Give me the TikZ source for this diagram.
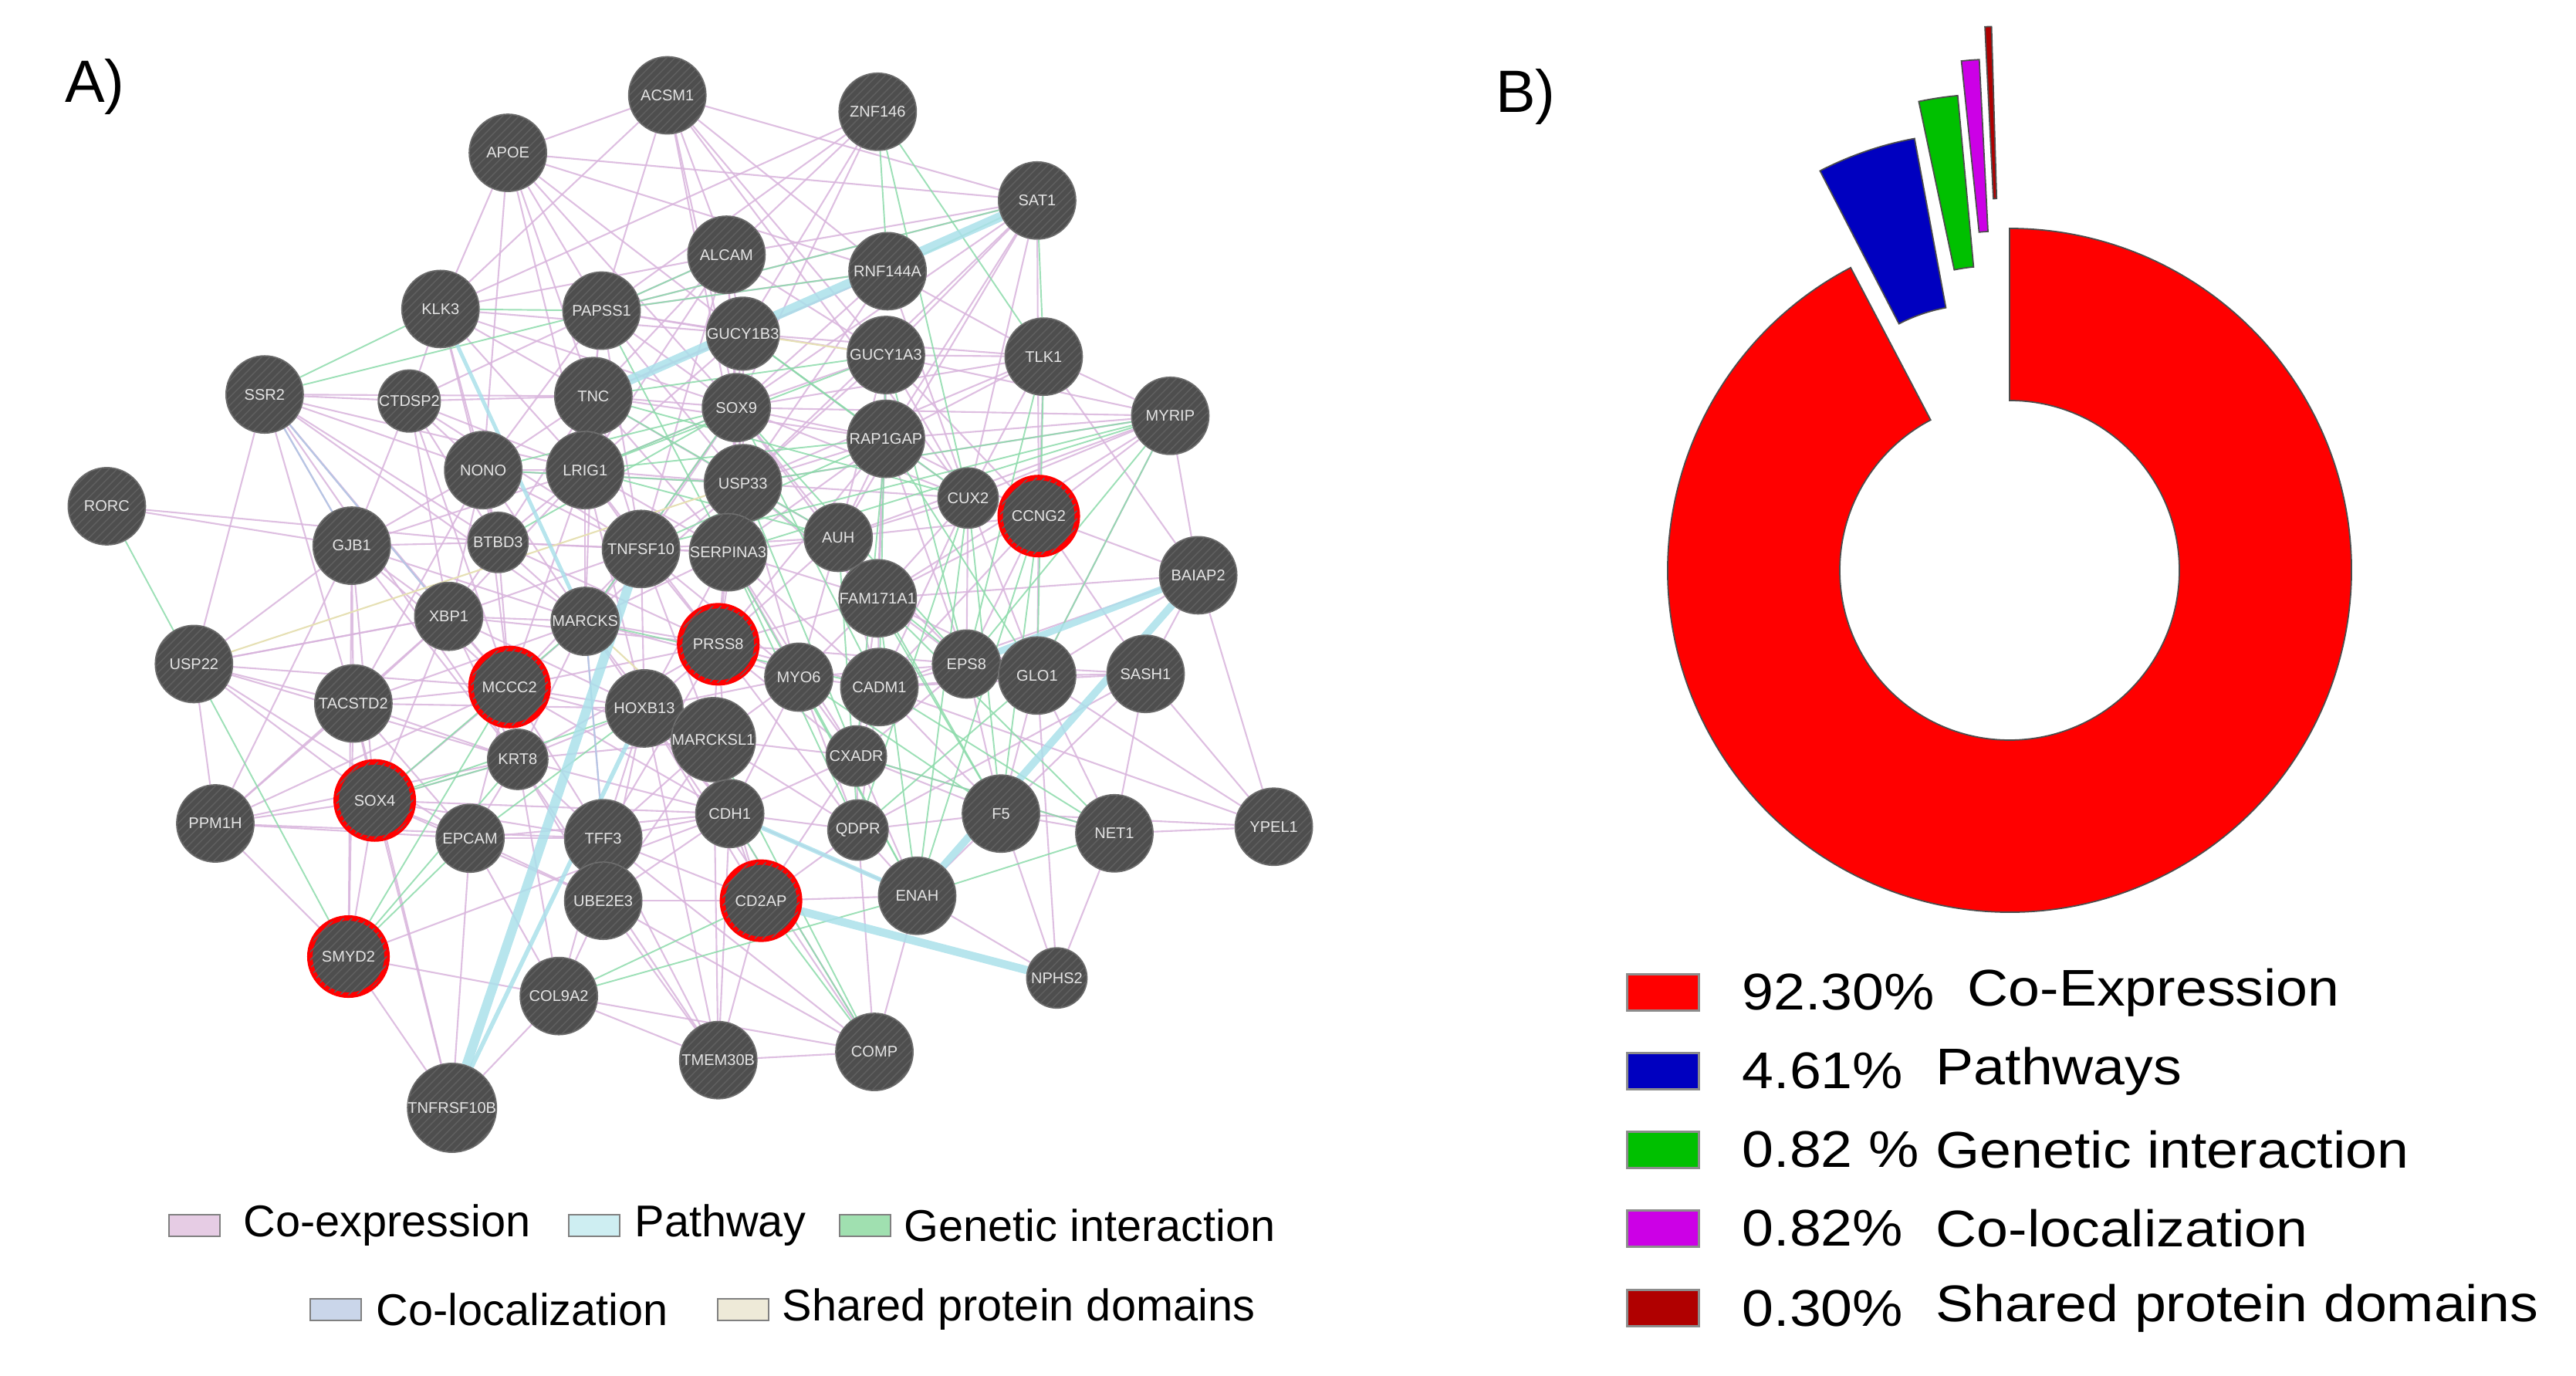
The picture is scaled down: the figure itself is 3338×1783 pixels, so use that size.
\documentclass[tikz,border=0pt]{standalone}
\usepackage{fontspec}
\setmainfont{Liberation Sans}
\newfontfamily\widesans[FakeStretch=1.1]{Liberation Sans}
\usetikzlibrary{patterns,backgrounds}

\definecolor{nodegray}{RGB}{78,78,78}
\definecolor{nodeline}{RGB}{110,110,110}
\definecolor{stripe}{RGB}{96,96,96}
\definecolor{labelgray}{RGB}{228,228,228}
\definecolor{coexpcolor}{RGB}{216,180,220}
\definecolor{pathcolor}{RGB}{170,224,234}
\definecolor{genetcolor}{RGB}{140,218,170}
\definecolor{coloccolor}{RGB}{182,198,228}
\definecolor{domaincolor}{RGB}{230,224,180}
\definecolor{coexpbox}{RGB}{230,204,228}
\definecolor{pathbox}{RGB}{206,238,242}
\definecolor{genetbox}{RGB}{160,224,176}
\definecolor{colocbox}{RGB}{202,214,234}
\definecolor{domainbox}{RGB}{238,234,216}
\definecolor{piered}{RGB}{255,0,0}
\definecolor{pieblue}{RGB}{0,0,192}
\definecolor{piegreen}{RGB}{0,192,0}
\definecolor{piemagenta}{RGB}{204,0,230}
\definecolor{piedarkred}{RGB}{176,0,0}

\tikzset{
  gene/.style={circle, minimum size=1.0cm, inner sep=0pt, fill=nodegray, draw=nodeline,
    line width=0.5pt, text=labelgray, font=\fontsize{5.7}{6}\selectfont,
    postaction={pattern=north east lines, pattern color=stripe}},
  genem/.style={gene, minimum size=0.88cm},
  genes/.style={gene, minimum size=0.78cm},
  query/.style={gene, draw=red, line width=2pt},
  coexp/.style={draw=coexpcolor, line width=0.6pt, opacity=0.85},
  genet/.style={draw=genetcolor, line width=0.55pt, opacity=0.85},
  coloc/.style={draw=coloccolor, line width=0.6pt},
  shareddom/.style={draw=domaincolor, line width=0.6pt},
  pathway/.style={draw=pathcolor, line width=#1, opacity=0.85},
  pathway/.default=1.5pt,
  keybox/.style={draw=black!50, line width=0.7pt, minimum width=0.66cm, minimum height=0.28cm, inner sep=0pt},
  keytext/.style={anchor=west, inner sep=0pt, font=\fontsize{16.4}{19}\selectfont},
  piekey/.style={draw=black!45, line width=0.8pt, minimum width=0.93cm, minimum height=0.47cm, inner sep=0pt},
  pietext/.style={anchor=west, inner sep=0pt, font=\widesans\fontsize{19}{22}\selectfont},
  slice/.style={draw=black!70, line width=0.5pt}
}

% one ring segment of the donut: colour, start angle, end angle, explode distance
\newcommand{\ringslice}[4]{%
  \pgfmathsetmacro{\midang}{(#2+#3)/2}
  \pgfmathsetmacro{\slicedx}{#4*cos(\midang)}
  \pgfmathsetmacro{\slicedy}{#4*sin(\midang)}
  \filldraw[slice, fill=#1] ({\slicedx+220*cos(#2)}, {\slicedy+220*sin(#2)})
    -- ({\slicedx+443*cos(#2)}, {\slicedy+443*sin(#2)})
    arc[start angle=#2, end angle=#3, radius=443]
    -- ({\slicedx+220*cos(#3)}, {\slicedy+220*sin(#3)})
    arc[start angle=#3, end angle=#2, radius=220] -- cycle;}

\begin{document}
\begin{tikzpicture}[x=0.01cm, y=-0.01cm]
  \useasboundingbox (0,0) rectangle (3338,1783);

  \node (labA) at (123,112) {\fontsize{22}{24}\selectfont A)};
  \node (labB) at (1977,125) {\fontsize{22}{24}\selectfont B)};

  % network of genes
  \begin{scope}[x=0.021288cm, y=-0.021288cm]
    \node[gene] (ACSM1) at (406,58) {ACSM1};
    \node[gene] (ZNF146) at (534,68) {ZNF146};
    \node[gene] (APOE) at (309,93) {APOE};
    \node[gene] (SAT1) at (631,122) {SAT1};
    \node[gene] (ALCAM) at (442,155) {ALCAM};
    \node[gene] (RNF144A) at (540,165) {RNF144A};
    \node[gene] (KLK3) at (268,188) {KLK3};
    \node[gene] (PAPSS1) at (366,189) {PAPSS1};
    \node[genes] (GUCY1B3) at (452,203) {GUCY1B3};
    \node[gene] (GUCY1A3) at (539,216) {GUCY1A3};
    \node[gene] (TLK1) at (635,217) {TLK1};
    \node[gene] (SSR2) at (161,240) {SSR2};
    \node[genes] (CTDSP2) at (249,244) {CTDSP2};
    \node[gene] (TNC) at (361,241) {TNC};
    \node[genem] (SOX9) at (448,248) {SOX9};
    \node[gene] (MYRIP) at (712,253) {MYRIP};
    \node[gene] (RAP1GAP) at (539,267) {RAP1GAP};
    \node[gene] (NONO) at (294,286) {NONO};
    \node[gene] (LRIG1) at (356,286) {LRIG1};
    \node[gene] (USP33) at (452,294) {USP33};
    \node[gene] (RORC) at (65,308) {RORC};
    \node[genes] (CUX2) at (589,303) {CUX2};
    \node[query] (CCNG2) at (632,314) {CCNG2};
    \node[gene] (GJB1) at (214,332) {GJB1};
    \node[genes] (BTBD3) at (303,330) {BTBD3};
    \node[gene] (TNFSF10) at (390,334) {TNFSF10};
    \node[gene] (SERPINA3) at (443,336) {SERPINA3};
    \node[genem] (AUH) at (510,327) {AUH};
    \node[gene] (BAIAP2) at (729,350) {BAIAP2};
    \node[genem] (XBP1) at (273,375) {XBP1};
    \node[genem] (MARCKS) at (356,378) {MARCKS};
    \node[query] (PRSS8) at (437,392) {PRSS8};
    \node[gene] (FAM171A1) at (534,364) {FAM171A1};
    \node[gene] (USP22) at (118,404) {USP22};
    \node[gene] (TACSTD2) at (215,428) {TACSTD2};
    \node[query] (MCCC2) at (310,418) {MCCC2};
    \node[gene] (HOXB13) at (392,431) {HOXB13};
    \node[genem] (MYO6) at (486,412) {MYO6};
    \node[gene] (CADM1) at (535,418) {CADM1};
    \node[genem] (EPS8) at (588,404) {EPS8};
    \node[gene] (GLO1) at (631,411) {GLO1};
    \node[gene] (SASH1) at (697,410) {SASH1};
    \node[gene] (MARCKSL1) at (434,450) {MARCKSL1};
    \node[genes] (KRT8) at (315,462) {KRT8};
    \node[genes] (CXADR) at (521,460) {CXADR};
    \node[query] (SOX4) at (228,487) {SOX4};
    \node[gene] (PPM1H) at (131,501) {PPM1H};
    \node[genem] (EPCAM) at (286,510) {EPCAM};
    \node[gene] (TFF3) at (367,510) {TFF3};
    \node[genem] (CDH1) at (444,495) {CDH1};
    \node[genes] (QDPR) at (522,505) {QDPR};
    \node[gene] (F5) at (609,495) {F5};
    \node[gene] (NET1) at (678,507) {NET1};
    \node[gene] (YPEL1) at (775,503) {YPEL1};
    \node[gene] (UBE2E3) at (367,548) {UBE2E3};
    \node[query] (CD2AP) at (463,548) {CD2AP};
    \node[gene] (ENAH) at (558,545) {ENAH};
    \node[query] (SMYD2) at (212,582) {SMYD2};
    \node[genes] (NPHS2) at (643,595) {NPHS2};
    \node[gene] (COL9A2) at (340,606) {COL9A2};
    \node[gene] (COMP) at (532,640) {COMP};
    \node[gene] (TMEM30B) at (437,645) {TMEM30B};
    \node[gene] (TNFRSF10B) at (275,674) {TNFRSF10B};
  \end{scope}

  \begin{scope}[on background layer]
    % co-expression
    \draw[coexp] (ACSM1) edge (APOE) edge (ALCAM) edge (PAPSS1) edge (RNF144A) edge (SOX9) edge (GUCY1A3) edge (SAT1) edge (KLK3) edge (CUX2) edge (USP33);
    \draw[coexp] (APOE) edge (KLK3) edge (PAPSS1) edge (TNC) edge (SAT1) edge (RNF144A) edge (NONO) edge (GUCY1B3) edge (LRIG1) edge (SOX9);
    \draw[coexp] (ZNF146) edge (ALCAM) edge (PAPSS1) edge (GUCY1B3) edge (KLK3) edge (SOX9);
    \draw[coexp] (SAT1) edge (ALCAM) edge (GUCY1A3) edge (RAP1GAP) edge (CCNG2) edge (CUX2) edge (USP33) edge (SOX9) edge (PAPSS1) edge (AUH);
    \draw[coexp] (ALCAM) edge (PAPSS1) edge (GUCY1B3) edge (TNC) edge (LRIG1) edge (GUCY1A3) edge (SOX9) edge (KLK3) edge (USP33) edge (TNFSF10);
    \draw[coexp] (RNF144A) edge (GUCY1B3) edge (SOX9) edge (TLK1) edge (PAPSS1) edge (USP33) edge (TNC) edge (CUX2);
    \draw[coexp] (KLK3) edge (CTDSP2) edge (NONO) edge (TNC) edge (LRIG1) edge (SOX9) edge (GUCY1B3) edge (BTBD3);
    \draw[coexp] (PAPSS1) edge (TNC) edge (GUCY1B3) edge (SOX9) edge (LRIG1) edge (NONO) edge (USP33) edge (TNFSF10) edge (GUCY1A3) edge (CTDSP2);
    \draw[coexp] (GUCY1B3) edge (SOX9) edge (TNC) edge (USP33) edge (RAP1GAP) edge (LRIG1) edge (TLK1);
    \draw[coexp] (GUCY1A3) edge (TLK1) edge (RAP1GAP) edge (SOX9) edge (MYRIP) edge (USP33) edge (CUX2) edge (CCNG2) edge (AUH) edge (FAM171A1);
    \draw[coexp] (TLK1) edge (MYRIP) edge (CCNG2) edge (RAP1GAP) edge (BAIAP2) edge (CUX2) edge (SOX9) edge (USP33);
    \draw[coexp] (MYRIP) edge (BAIAP2) edge (CCNG2) edge (CUX2) edge (RAP1GAP) edge (GLO1) edge (SOX9) edge (FAM171A1) edge (AUH) edge (USP33);
    \draw[coexp] (SSR2) edge (CTDSP2) edge (NONO) edge (GJB1) edge (TACSTD2) edge (XBP1) edge (LRIG1) edge (MARCKS) edge (TNC) edge (BTBD3) edge (USP22) edge (MCCC2) edge (KRT8);
    \draw[coexp] (CTDSP2) edge (NONO) edge (GJB1) edge (LRIG1) edge (TNC) edge (BTBD3) edge (XBP1) edge (MCCC2) edge (TNFSF10);
    \draw[coexp] (TNC) edge (SOX9) edge (LRIG1) edge (NONO) edge (USP33) edge (TNFSF10) edge (SERPINA3) edge (MARCKS) edge (BTBD3) edge (RAP1GAP);
    \draw[coexp] (SOX9) edge (USP33) edge (RAP1GAP) edge (LRIG1) edge (SERPINA3) edge (TNFSF10) edge (AUH) edge (CUX2) edge (PRSS8) edge (FAM171A1) edge (MARCKS);
    \draw[coexp] (RAP1GAP) edge (USP33) edge (CUX2) edge (AUH) edge (CCNG2) edge (FAM171A1) edge (SERPINA3) edge (EPS8) edge (PRSS8);
    \draw[coexp] (NONO) edge (LRIG1) edge (GJB1) edge (BTBD3) edge (XBP1) edge (MARCKS) edge (MCCC2) edge (TNFSF10) edge (TACSTD2) edge (USP33);
    \draw[coexp] (LRIG1) edge (USP33) edge (TNFSF10) edge (BTBD3) edge (MARCKS) edge (SERPINA3) edge (XBP1) edge (PRSS8) edge (MCCC2) edge (HOXB13);
    \draw[coexp] (USP33) edge (SERPINA3) edge (AUH) edge (TNFSF10) edge (PRSS8) edge (FAM171A1) edge (CUX2) edge (MYO6) edge (MARCKS);
    \draw[coexp] (RORC) edge (GJB1) edge (BTBD3);
    \draw[coexp] (CUX2) edge (CCNG2) edge (AUH) edge (FAM171A1) edge (EPS8) edge (GLO1) edge (CADM1);
    \draw[coexp] (CCNG2) edge (BAIAP2) edge (EPS8) edge (GLO1) edge (FAM171A1) edge (AUH) edge (SASH1) edge (CADM1);
    \draw[coexp] (GJB1) edge (BTBD3) edge (XBP1) edge (TACSTD2) edge (MCCC2) edge (LRIG1) edge (MARCKS) edge (SOX4) edge (USP22) edge (PPM1H) edge (SMYD2) edge (KRT8);
    \draw[coexp] (BTBD3) edge (XBP1) edge (TNFSF10) edge (MARCKS) edge (MCCC2) edge (SERPINA3) edge (PRSS8);
    \draw[coexp] (TNFSF10) edge (SERPINA3) edge (MARCKS) edge (PRSS8) edge (HOXB13) edge (AUH) edge (MCCC2) edge (MARCKSL1) edge (MYO6) edge (XBP1);
    \draw[coexp] (SERPINA3) edge (AUH) edge (PRSS8) edge (FAM171A1) edge (MARCKS) edge (MYO6) edge (HOXB13) edge (CADM1) edge (CXADR);
    \draw[coexp] (AUH) edge (FAM171A1) edge (PRSS8) edge (MYO6) edge (CADM1) edge (EPS8);
    \draw[coexp] (BAIAP2) edge (YPEL1) edge (SASH1) edge (GLO1) edge (CADM1) edge (FAM171A1);
    \draw[coexp] (XBP1) edge (MARCKS) edge (MCCC2) edge (TACSTD2) edge (KRT8) edge (SOX4) edge (USP22) edge (PRSS8) edge (HOXB13);
    \draw[coexp] (MARCKS) edge (PRSS8) edge (MCCC2) edge (HOXB13) edge (KRT8) edge (TFF3) edge (MYO6) edge (CDH1);
    \draw[coexp] (PRSS8) edge (MYO6) edge (HOXB13) edge (MARCKSL1) edge (CADM1) edge (FAM171A1) edge (CDH1) edge (CXADR) edge (MCCC2) edge (KRT8) edge (TFF3) edge (EPS8) edge (QDPR);
    \draw[coexp] (FAM171A1) edge (MYO6) edge (CADM1) edge (EPS8) edge (GLO1) edge (CXADR);
    \draw[coexp] (USP22) edge (TACSTD2) edge (SOX4) edge (XBP1) edge (MCCC2) edge (KRT8) edge (PPM1H) edge (EPCAM);
    \draw[coexp] (TACSTD2) edge (MCCC2) edge (SOX4) edge (KRT8) edge (EPCAM) edge (HOXB13) edge (SMYD2) edge (TNFRSF10B) edge (MARCKS);
    \draw[coexp] (MCCC2) edge (HOXB13) edge (KRT8) edge (SOX4) edge (EPCAM) edge (TFF3) edge (MARCKSL1) edge (CDH1);
    \draw[coexp] (HOXB13) edge (MARCKSL1) edge (KRT8) edge (TFF3) edge (CDH1) edge (MYO6) edge (UBE2E3) edge (CD2AP) edge (TMEM30B);
    \draw[coexp] (MYO6) edge (CADM1) edge (MARCKSL1) edge (CXADR) edge (CDH1) edge (EPS8) edge (QDPR);
    \draw[coexp] (CADM1) edge (EPS8) edge (GLO1) edge (CXADR) edge (QDPR) edge (SASH1) edge (F5) edge (YPEL1);
    \draw[coexp] (EPS8) edge (GLO1) edge (SASH1) edge (F5) edge (CXADR);
    \draw[coexp] (GLO1) edge (SASH1) edge (F5) edge (NET1) edge (YPEL1) edge (NPHS2);
    \draw[coexp] (SASH1) edge (NET1) edge (YPEL1) edge (F5) edge (QDPR);
    \draw[coexp] (MARCKSL1) edge (KRT8) edge (CDH1) edge (TFF3) edge (CXADR) edge (UBE2E3) edge (CD2AP) edge (QDPR) edge (TMEM30B);
    \draw[coexp] (KRT8) edge (EPCAM) edge (TFF3) edge (SOX4) edge (CDH1) edge (UBE2E3) edge (TMEM30B);
    \draw[coexp] (CXADR) edge (CDH1) edge (QDPR) edge (F5) edge (NET1) edge (ENAH) edge (CD2AP);
    \draw[coexp] (SOX4) edge (EPCAM) edge (TFF3) edge (CDH1) edge (PPM1H) edge (SMYD2) edge (TNFRSF10B) edge (UBE2E3);
    \draw[coexp] (PPM1H) edge (EPCAM) edge (TFF3) edge (TACSTD2) edge (XBP1) edge (KRT8) edge (MCCC2);
    \draw[coexp] (EPCAM) edge (TFF3) edge (CDH1) edge (UBE2E3) edge (COL9A2) edge (TNFRSF10B);
    \draw[coexp] (TFF3) edge (CDH1) edge (UBE2E3) edge (CD2AP) edge (COL9A2) edge (TMEM30B);
    \draw[coexp] (CDH1) edge (QDPR) edge (CD2AP) edge (UBE2E3) edge (ENAH) edge (TMEM30B) edge (COMP);
    \draw[coexp] (QDPR) edge (ENAH) edge (F5) edge (CD2AP) edge (COMP);
    \draw[coexp] (F5) edge (NET1) edge (ENAH) edge (NPHS2) edge (YPEL1);
    \draw[coexp] (NET1) edge (YPEL1) edge (NPHS2);
    \draw[coexp] (UBE2E3) edge (CD2AP) edge (COL9A2) edge (TMEM30B) edge (COMP);
    \draw[coexp] (CD2AP) edge (TMEM30B) edge (ENAH);
    \draw[coexp] (ENAH) edge (COMP) edge (NPHS2);
    \draw[coexp] (SMYD2) edge (TNFRSF10B) edge (CDH1) edge (COL9A2) edge (PPM1H);
    \draw[coexp] (COL9A2) edge (TMEM30B) edge (COMP) edge (TNFRSF10B) edge (KRT8);
    \draw[coexp] (COMP) edge (TMEM30B) edge (HOXB13) edge (TFF3);
    % genetic interactions
    \draw[genet] (ZNF146) edge (RNF144A) edge (TLK1) edge (CUX2);
    \draw[genet] (SAT1) edge (TLK1) edge (RNF144A);
    \draw[genet] (KLK3) edge (PAPSS1) edge (SSR2);
    \draw[genet] (SSR2) edge (PAPSS1);
    \draw[genet] (PAPSS1) edge (RNF144A) edge (SAT1) edge (ALCAM) edge (SERPINA3);
    \draw[genet] (TNC) edge (GUCY1A3) edge (CUX2) edge (AUH);
    \draw[genet] (LRIG1) edge (GUCY1A3) edge (RAP1GAP) edge (SOX9) edge (AUH);
    \draw[genet] (MYRIP) edge (EPS8) edge (GLO1) edge (SERPINA3) edge (USP33) edge (TNFSF10);
    \draw[genet] (TLK1) edge (EPS8) edge (GLO1);
    \draw[genet] (CCNG2) edge (F5) edge (ENAH);
    \draw[genet] (CUX2) edge (F5) edge (QDPR) edge (ENAH);
    \draw[genet] (RAP1GAP) edge (CXADR) edge (GLO1);
    \draw[genet] (GUCY1A3) edge (EPS8) edge (CADM1);
    \draw[genet] (SOX9) edge (CADM1) edge (EPS8) edge (NONO) edge (BTBD3) edge (MARCKS);
    \draw[genet] (USP33) edge (CXADR) edge (EPS8) edge (NONO);
    \draw[genet] (SERPINA3) edge (ENAH) edge (QDPR);
    \draw[genet] (AUH) edge (QDPR) edge (F5);
    \draw[genet] (FAM171A1) edge (F5) edge (ENAH) edge (NET1);
    \draw[genet] (RORC) edge (SMYD2);
    \draw[genet] (SMYD2) edge (MCCC2) edge (EPCAM) edge (KRT8);
    \draw[genet] (SOX4) edge (KRT8) edge (HOXB13) edge (MARCKS);
    \draw[genet] (EPCAM) edge (HOXB13);
    \draw[genet] (COL9A2) edge (CD2AP) edge (ENAH);
    \draw[genet] (COMP) edge (CD2AP) edge (MARCKSL1) edge (CDH1);
    \draw[genet] (NET1) edge (ENAH) edge (CXADR) edge (CADM1);
    \draw[genet] (GLO1) edge (QDPR);
    \draw[genet] (MYO6) edge (F5) edge (ENAH);
    \draw[genet] (TNFSF10) edge (RAP1GAP);
    \draw[genet] (MARCKS) edge (CADM1);
    \draw[genet] (GUCY1B3) edge (RAP1GAP) edge (CUX2);
    % co-localization and shared protein domains
    \draw[coloc] (SSR2) edge (GJB1) edge (XBP1);
    \draw[coloc] (MARCKS) edge (TFF3);
    \draw[shareddom] (USP22) edge (USP33);
    \draw[shareddom] (GUCY1A3) edge (GUCY1B3);
    \draw[shareddom] (MARCKS) edge (MARCKSL1);
    % pathways
    \draw[pathway=3.5pt] (SAT1) -- (TNC);
    \draw[pathway=3.5pt] (TNFRSF10B) -- (TNFSF10);
    \draw[pathway=1.6pt] (TNFRSF10B) -- (HOXB13);
    \draw[pathway=2.8pt] (BAIAP2) -- (ENAH);
    \draw[pathway=2.5pt] (BAIAP2) -- (EPS8);
    \draw[pathway=3pt] (CD2AP) -- (NPHS2);
    \draw[pathway=1.4pt] (KLK3) -- (MARCKS);
    \draw[pathway=1.6pt] (CDH1) -- (ENAH);
  \end{scope}

  % legend of the network
  \node[keybox, fill=coexpbox] (kcoexp) at (252,1588) {};
  \node[keytext] (tcoexp) at (315,1588) {Co-expression};
  \node[keybox, fill=pathbox] (kpath) at (770,1588) {};
  \node[keytext] (tpath) at (822,1588) {Pathway};
  \node[keybox, fill=genetbox] (kgenet) at (1121,1588) {};
  \node[keytext] (tgenet) at (1171,1588) {Genetic interaction};
  \node[keybox, fill=colocbox] (kcoloc) at (435,1697) {};
  \node[keytext] (tcoloc) at (487,1697) {Co-localization};
  \node[keybox, fill=domainbox] (kdomain) at (963,1697) {};
  \node[keytext] (tdomain) at (1013,1697) {Shared protein domains};

  % donut chart
  \begin{scope}[shift={(2604,739)}, yscale=-1]
    \ringslice{piered}{117.7}{450}{0}
    \ringslice{pieblue}{100.5}{117.3}{131}
    \ringslice{piegreen}{95.3}{101.9}{176}
    \ringslice{piemagenta}{92.9}{95.9}{220}
    \ringslice{piedarkred}{91.7}{92.8}{262}
  \end{scope}

  % legend of the donut chart
  \node[piekey, fill=piered] (kred) at (2155,1286) {};
  \node[pietext] (pred) at (2257,1286) {92.30\%};
  \node[pietext] (lred) at (2549,1286) {Co-Expression};
  \node[piekey, fill=pieblue] (kblue) at (2155,1388) {};
  \node[pietext] (pblue) at (2257,1388) {4.61\%};
  \node[pietext] (lblue) at (2508,1388) {Pathways};
  \node[piekey, fill=piegreen] (kgreen) at (2155,1490) {};
  \node[pietext] (pgreen) at (2257,1490) {0.82 \%};
  \node[pietext] (lgreen) at (2508,1490) {Genetic interaction};
  \node[piekey, fill=piemagenta] (kmag) at (2155,1592) {};
  \node[pietext] (pmag) at (2257,1592) {0.82\%};
  \node[pietext] (lmag) at (2508,1592) {Co-localization};
  \node[piekey, fill=piedarkred] (kdark) at (2155,1695) {};
  \node[pietext] (pdark) at (2257,1695) {0.30\%};
  \node[pietext] (ldark) at (2508,1695) {Shared protein domains};
\end{tikzpicture}
\end{document}
